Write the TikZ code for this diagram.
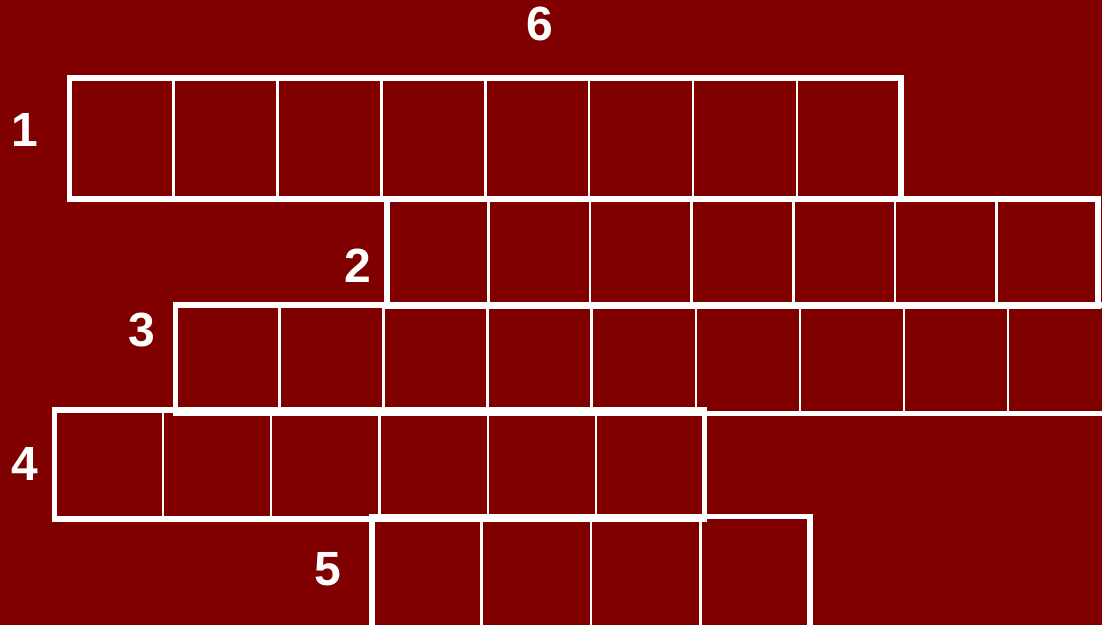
\documentclass[tikz,border=0pt]{standalone}
\usepackage{fontspec}
\setmainfont{Liberation Sans}
\definecolor{bgred}{RGB}{128,0,0}
\newcommand{\gridrow}[5]{%
  \pgfmathsetmacro{\cw}{(#3-#1)/#5}%
  \foreach \k in {1,...,\numexpr#5-1\relax}{%
    \draw[innerline] ({#1+\k*\cw},#2) -- ({#1+\k*\cw},#4);
  }%
  \draw[outerline] (#1,#2) rectangle (#3,#4);
}
\begin{document}
\begin{tikzpicture}[x=1pt,y=-1pt,
  innerline/.style={draw=white,line width=2.5pt},
  outerline/.style={draw=white,line width=5.5pt},
  numlabel/.style={text=white,font=\fontsize{48}{48}\selectfont\bfseries,inner sep=0pt}]
\fill[bgred] (0,0) rectangle (1102,625);
\useasboundingbox (0,0) rectangle (1102,625);
\clip (0,0) rectangle (1102,625);
\gridrow{69.5}{78}{901}{199}{8}
\gridrow{387}{199}{1098}{306}{7}
\gridrow{175.5}{305}{1112}{413.5}{9}
\gridrow{54.5}{410}{704.5}{519}{6}
\gridrow{372}{516.5}{810}{640}{4}
\node[numlabel] (l1) at (24.5,129.5) {1};
\node[numlabel] (l2) at (358,266) {2};
\node[numlabel] (l3) at (142,330.5) {3};
\node[numlabel] (l4) at (25,464) {4};
\node[numlabel] (l5) at (328,569) {5};
\node[numlabel] (l6) at (540,24) {6};
\end{tikzpicture}
\end{document}
